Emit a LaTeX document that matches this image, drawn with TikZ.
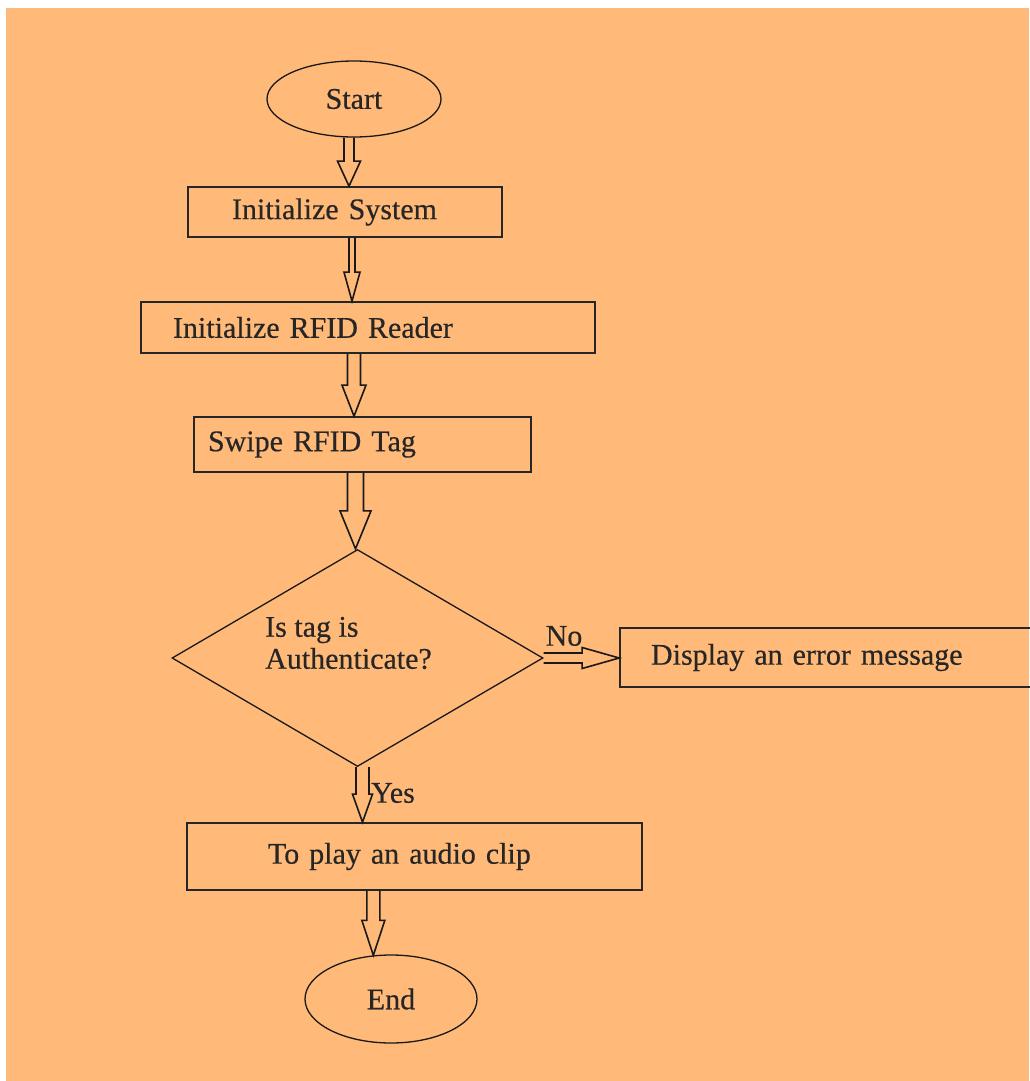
\documentclass[tikz,border=0pt]{standalone}
\usepackage{fontspec}
\setmainfont[FakeBold=0.4]{Liberation Serif}
\usetikzlibrary{shapes.geometric,calc}
\definecolor{bgorange}{HTML}{FFB978}
\newcommand\varrow[5]{\draw[blockarrow] let \p1=#1, \p2=#2 in
  (\x1-#3pt,\y1) -- (\x1-#3pt,\y2+#5pt) -- (\x1-#4pt,\y2+#5pt) -- (\x1,\y2)
  -- (\x1+#4pt,\y2+#5pt) -- (\x1+#3pt,\y2+#5pt) -- (\x1+#3pt,\y1);}
\newcommand\harrow[5]{\draw[blockarrow] let \p1=#1, \p2=#2 in
  (\x1,\y1-#3pt) -- (\x2-#5pt,\y1-#3pt) -- (\x2-#5pt,\y1-#4pt) -- (\x2,\y1)
  -- (\x2-#5pt,\y1+#4pt) -- (\x2-#5pt,\y1+#3pt) -- (\x1,\y1+#3pt);}
\begin{document}
\begin{tikzpicture}[x=1pt,y=-1pt,
  every node/.style={font=\fontsize{30pt}{32pt}\selectfont, text=black!85},
  box/.style={draw=black!85, line width=1.7pt, rectangle, align=left, inner ysep=0pt},
  oval/.style={draw=black!90, line width=1.3pt, ellipse, inner sep=0pt},
  decision/.style={draw=black!90, line width=1.3pt, diamond, inner sep=0pt},
  blockarrow/.style={draw=black!90, line width=1.6pt, line join=miter},
  lbl/.style={inner sep=0pt}]
\useasboundingbox (0,0) rectangle (1029,1081);
\fill[white] (0,0) rectangle (1029,1081);
\fill[bgorange] (6,8) rectangle (1029,1081);

\node[oval, minimum width=174pt, minimum height=76pt] (start) at (354,99) {Start};
\node[box, minimum height=50pt, inner xsep=44pt, text width=226pt] (sys) at (345,212) {Initialize System};
\node[box, minimum height=51pt, inner xsep=32pt, text width=390pt] (rfid) at (368,327.5) {Initialize RFID Reader};
\node[box, minimum height=55pt, inner xsep=14pt, text width=309pt] (swipe) at (362.5,444.5) {Swipe RFID Tag};
\node[decision, minimum width=371pt, minimum height=217pt,
  label={[lbl, align=left, xshift=-9pt, yshift=15pt]center:Is tag is\\Authenticate?}] (dec) at (357.5,658) {};
\node[box, minimum height=59pt, inner xsep=31pt, text width=358pt] (err) at (830,657.5) {Display an error message};
\node[box, minimum height=67pt, inner xsep=81pt, text width=293pt] (audio) at (414.5,856.5) {To play an audio clip};
\node[oval, minimum width=172pt, minimum height=88pt] (end) at (391,999) {End};

\varrow{($(start.south)+(-5,0)$)}{(sys.north)}{5}{11.5}{25}
\varrow{($(sys.south)+(7,0)$)}{(rfid.north)}{3}{8}{29}
\varrow{($(rfid.south)+(-14,0)$)}{(swipe.north)}{6.5}{12}{31}
\varrow{($(swipe.south)+(-7,0)$)}{(dec.north)}{8}{15.5}{38}
\harrow{(dec.east)}{(err.west)}{5}{10.5}{37}
\varrow{($(dec.south)+(5,0)$)}{(audio.north)}{6.5}{10}{28}
\varrow{(audio.south -| end.112)}{(end.112)}{6.5}{11.5}{35}

\node[lbl] (no) at (564,636) {No};
\node[lbl] (yes) at (393,793) {Yes};
\end{tikzpicture}
\end{document}
